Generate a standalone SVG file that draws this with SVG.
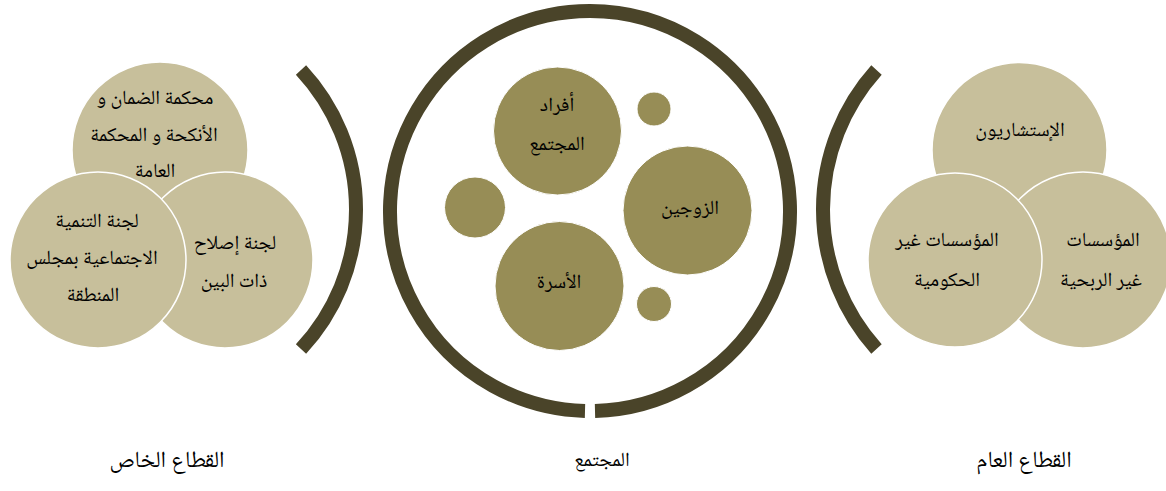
<svg xmlns="http://www.w3.org/2000/svg" width="1166" height="491" viewBox="0 0 1166 491">
  <style>
    .tan { fill: #C7BF9B; stroke: #FFFFFF; stroke-width: 1.5; }
    .olive { fill: #978D56; stroke: #FFFFFF; stroke-width: 1; }
    .band { fill: none; stroke: #4A4429; stroke-width: 14; stroke-linecap: butt; }
    text { font-family: "Noto Naskh Arabic", "Noto Sans Arabic", "DejaVu Sans", sans-serif; font-size: 20px; fill: #000000; text-anchor: middle; dominant-baseline: central; }
    .caption { font-size: 23px; }
  </style>
  <rect width="1166" height="491" fill="#FFFFFF"/>

  <g id="brackets">
    <path class="band" d="M 301 70 A 204.4 204.4 0 0 1 301 349"/>
    <path class="band" d="M 590 211 m 5 199.94 A 200 200 0 1 0 585 410.94"/>
    <path class="band" d="M 876.5 70 A 208.6 208.6 0 0 0 876.5 349"/>
  </g>

  <!-- Private sector cluster -->
  <g id="node-court">
    <circle class="tan" cx="160" cy="150" r="88"/>
    <text x="155" y="100">محكمة الضمان و</text>
    <text x="154" y="137">الأنكحة و المحكمة</text>
    <text x="155" y="173">العامة</text>
  </g>
  <g id="node-reconciliation">
    <circle class="tan" cx="225" cy="260" r="88"/>
    <text x="235" y="245">لجنة إصلاح</text>
    <text x="234" y="283">ذات البين</text>
  </g>
  <g id="node-development">
    <circle class="tan" cx="98" cy="260" r="88"/>
    <text x="97" y="223">لجنة التنمية</text>
    <text x="92" y="260">الاجتماعية بمجلس</text>
    <text x="93" y="297">المنطقة</text>
  </g>

  <!-- Community -->
  <g id="node-individuals">
    <circle class="olive" cx="557.5" cy="131" r="64"/>
    <text x="557" y="107">أفراد</text>
    <text x="557" y="146">المجتمع</text>
  </g>
  <g id="node-spouses">
    <circle class="olive" cx="687.5" cy="210.5" r="64.5"/>
    <text x="690" y="210">الزوجين</text>
  </g>
  <g id="node-family">
    <circle class="olive" cx="559.5" cy="286" r="64.5"/>
    <text x="559" y="284">الأسرة</text>
  </g>
  <g id="dot-top">
    <circle class="olive" cx="654" cy="109" r="17"/>
  </g>
  <g id="dot-left">
    <circle class="olive" cx="475" cy="207.5" r="30.5"/>
  </g>
  <g id="dot-bottom">
    <circle class="olive" cx="654" cy="304" r="17.5"/>
  </g>

  <!-- Public sector cluster -->
  <g id="node-consultants">
    <circle class="tan" cx="1019.5" cy="150" r="87.5"/>
    <text x="1020" y="132">الإستشاريون</text>
  </g>
  <g id="node-nonprofit">
    <circle class="tan" cx="1083" cy="260" r="88"/>
    <text x="1103" y="242">المؤسسات</text>
    <text x="1101" y="282">غير الربحية</text>
  </g>
  <g id="node-ngo">
    <circle class="tan" cx="955" cy="260" r="87"/>
    <text x="947" y="242">المؤسسات غير</text>
    <text x="947" y="282">الحكومية</text>
  </g>

  <!-- Bottom labels -->
  <g id="label-private">
    <text class="caption" x="167" y="462">القطاع الخاص</text>
  </g>
  <g id="label-community">
    <text x="602" y="462">المجتمع</text>
  </g>
  <g id="label-public">
    <text class="caption" x="1024" y="462">القطاع العام</text>
  </g>
</svg>
